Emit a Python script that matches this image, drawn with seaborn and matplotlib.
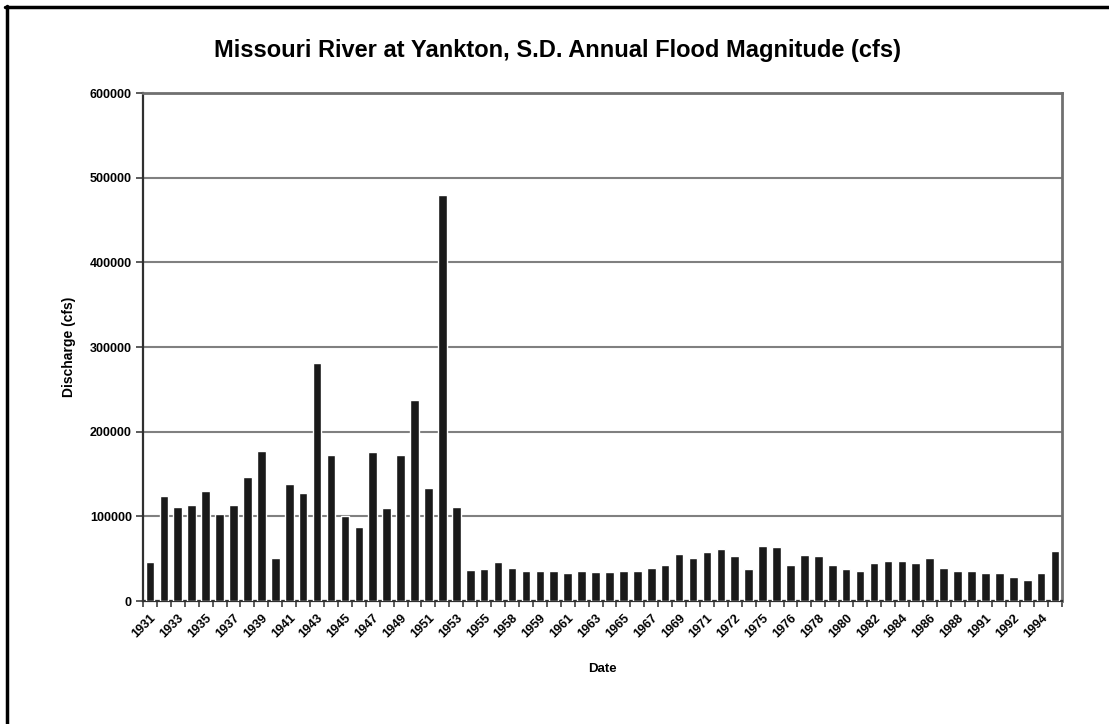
import matplotlib
matplotlib.use("Agg")
import matplotlib.pyplot as plt
from matplotlib.lines import Line2D
from matplotlib.ticker import FixedLocator
import numpy as np
import pandas as pd
import seaborn as sns

# Annual peak discharge, Missouri River at Yankton, S.D.
years = [
    "1931", "1932", "1933", "1934", "1935", "1936", "1937", "1938", "1939", "1940",
    "1941", "1942", "1943", "1944", "1945", "1946", "1947", "1948", "1949", "1950",
    "1951", "1952", "1953", "1954", "1955", "1957", "1958", "1958", "1959", "1960",
    "1961", "1962", "1963", "1964", "1965", "1966", "1967", "1968", "1969", "1970",
    "1971", "1972", "1972", "1974", "1975", "1975", "1976", "1977", "1978", "1979",
    "1980", "1981", "1982", "1983", "1984", "1985", "1986", "1987", "1988", "1990",
    "1991", "1992", "1992", "1993", "1994", "1995",
]
discharge = [
    46000, 124000, 111000, 113000, 130000, 103000, 113000, 147000, 177000, 51000,
    138000, 127000, 281000, 172000, 100000, 87000, 176000, 110000, 172000, 237000,
    134000, 480000, 111000, 37000, 38000, 46000, 39000, 35000, 35000, 35000,
    32500, 35000, 34000, 34000, 35000, 35500, 39000, 42500, 55500, 51000,
    57500, 61500, 53000, 38000, 64500, 64000, 42500, 54500, 53000, 42000,
    38000, 35000, 45000, 47500, 47500, 44500, 50500, 39500, 35500, 35000,
    33000, 32500, 28000, 25000, 33500, 58500,
]
y_ticks = [0, 100000, 200000, 300000, 400000, 500000, 600000]

df = pd.DataFrame({"pos": np.arange(len(years)), "year": years, "cfs": discharge})

sns.set_style("white")
plt.rcParams["font.family"] = ["Liberation Sans", "DejaVu Sans"]
plt.rcParams["font.weight"] = "bold"
plt.rcParams["text.color"] = "black"
plt.rcParams["axes.labelcolor"] = "black"
plt.rcParams["xtick.color"] = "black"
plt.rcParams["ytick.color"] = "black"

fig = plt.figure(figsize=(11.09, 7.24), dpi=100)
ax = fig.add_axes([143 / 1109, 1 - 601 / 724, (1062 - 143) / 1109, (601 - 93) / 724])

sns.barplot(data=df, x="pos", y="cfs", color="#1a1a1a", width=0.62,
            saturation=1, ax=ax, zorder=3)

n = len(years)
ax.set_xlim(-0.5, n - 0.5)
ax.set_ylim(0, 600000)
ax.set_yticks(y_ticks)
ax.set_yticklabels([str(v) for v in y_ticks], fontsize=9, fontweight="bold")
ax.yaxis.grid(True, color="#808080", linewidth=1.5, zorder=0)
ax.xaxis.grid(False)

# Labels on every other year, tick marks between every bar
ax.set_xticks(df["pos"][::2])
ax.set_xticklabels(df["year"][::2], rotation=45, ha="right",
                   rotation_mode="anchor", fontsize=9, fontweight="bold")
ax.tick_params(axis="x", which="major", length=0, pad=8)
ax.xaxis.set_minor_locator(FixedLocator(np.arange(n + 1) - 0.5))
ax.tick_params(axis="x", which="minor", length=4, width=1.2, color="#404040",
               direction="out", bottom=True)
ax.tick_params(axis="y", length=5, width=1.2, color="#404040", direction="out",
               left=True, pad=3)

for side in ["left", "bottom"]:
    ax.spines[side].set_color("#303030")
    ax.spines[side].set_linewidth(1.6)
for side in ["top", "right"]:
    ax.spines[side].set_color("#707070")
    ax.spines[side].set_linewidth(2.0)
    ax.spines[side].set_visible(True)

ax.set_xlabel("Date", fontsize=9.5, fontweight="bold", labelpad=16)
ax.set_ylabel("Discharge (cfs)", fontsize=10, fontweight="bold", labelpad=10)

fig.text(558 / 1109, 1 - 50 / 724,
         "Missouri River at Yankton, S.D. Annual Flood Magnitude (cfs)",
         ha="center", va="center", fontsize=17, fontweight="bold")

# Outer frame along the top and left edges
fig.add_artist(Line2D([5 / 1109, 1.0], [1 - 7 / 724, 1 - 7 / 724],
                      transform=fig.transFigure, color="black", linewidth=2.5))
fig.add_artist(Line2D([7 / 1109, 7 / 1109], [0.0, 1 - 6 / 724],
                      transform=fig.transFigure, color="black", linewidth=2.5))

fig.savefig("out.png", dpi=100)
